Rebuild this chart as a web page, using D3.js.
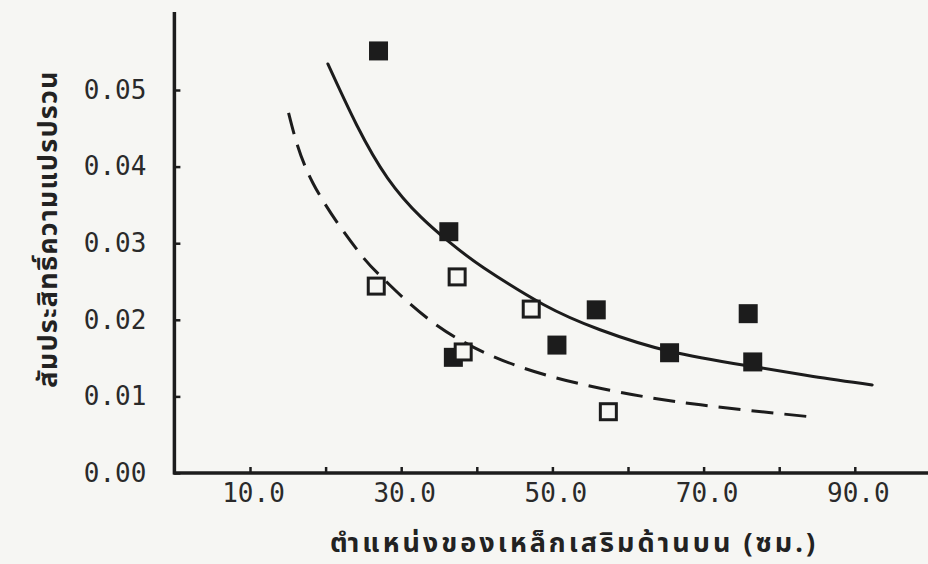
<!DOCTYPE html>
<html>
<head>
<meta charset="utf-8">
<script src="https://cdn.jsdelivr.net/npm/d3@7"></script>
<style>
  body { margin: 0; background: #f6f6f3; }
  svg { display: block; }
</style>
</head>
<body>
<div id="chart"></div>
<script>
// points
var filledX = [27.0, 36.3, 36.9, 50.6, 55.8, 65.5, 75.9, 76.5];
var filledY = [0.0551, 0.0315, 0.0151, 0.0167, 0.0213, 0.0157, 0.0208, 0.0145];
var openX = [26.7, 37.4, 38.2, 47.2, 57.4];
var openY = [0.0244, 0.0256, 0.0158, 0.0214, 0.0080];

// fitted curves (solid and dashed)
var solidX = [20.3, 28.2, 36.3, 40.9, 48.8, 56.3, 65.5, 76.5, 84.5, 92.3];
var solidY = [0.0534, 0.0385, 0.0302, 0.0268, 0.0220, 0.0187, 0.0159, 0.0139, 0.0126, 0.0115];
var dashX = [15.1, 18.3, 24.2, 27.6, 34.7, 45.3, 57.6, 69.6, 84.5];
var dashY = [0.0470, 0.0379, 0.0291, 0.0254, 0.0193, 0.0140, 0.0108, 0.0089, 0.0073];

// ticks
var xTicks = [10, 20, 30, 40, 50, 60, 70, 80, 90];
var xLabels = [10, 30, 50, 70, 90];
var yTicks = [0, 0.01, 0.02, 0.03, 0.04, 0.05];

var xTitle = "ตำแหน่งของเหล็กเสริมด้านบน (ซม.)";
var yTitle = "สัมประสิทธิ์ความแปรปรวน";

var W = 928, H = 564;
var ink = "#1c1c1c";
var numFont = "'DejaVu Sans Mono', monospace";
var thaiFont = "'Noto Sans Thai', 'Noto Sans', 'DejaVu Sans', sans-serif";

var svg = d3.select("#chart").append("svg")
    .attr("width", W)
    .attr("height", H);

var x = d3.scaleLinear().domain([0, 100]).range([174.4, 930.4]);
var y = d3.scaleLinear().domain([0, 0.06]).range([473, 13.4]);

// x axis
var gx = svg.append("g")
    .attr("transform", "translate(0," + y(0) + ")")
    .call(d3.axisBottom(x)
        .tickValues(xTicks)
        .tickSize(-6)
        .tickPadding(11)
        .tickFormat(function (d) { return xLabels.indexOf(d) >= 0 ? d3.format(".1f")(d) : ""; }));
gx.select(".domain").remove();
gx.append("line")
    .attr("x1", x(0) - 1).attr("x2", W)
    .attr("stroke", ink).attr("stroke-width", 3.5);
gx.selectAll(".tick line").attr("stroke", ink).attr("stroke-width", 2.5);
gx.selectAll(".tick text")
    .attr("fill", "#2a2a2a")
    .attr("dx", 3)
    .style("font-family", numFont)
    .style("font-size", "26px");

// y axis
var gy = svg.append("g")
    .attr("transform", "translate(" + x(0) + ",0)")
    .call(d3.axisLeft(y)
        .tickValues(yTicks)
        .tickSize(-6)
        .tickPadding(28)
        .tickFormat(d3.format(".2f")));
gy.select(".domain").remove();
gy.append("line")
    .attr("y1", 12).attr("y2", y(0) + 1.5)
    .attr("stroke", ink).attr("stroke-width", 3.5);
gy.selectAll(".tick line").attr("stroke", ink).attr("stroke-width", 2.5);
gy.selectAll(".tick text")
    .attr("fill", "#2a2a2a")
    .style("font-family", numFont)
    .style("font-size", "26px");

// axis titles
svg.append("text")
    .attr("x", 574)
    .attr("y", 552)
    .attr("text-anchor", "middle")
    .attr("fill", "#222")
    .style("font-family", thaiFont)
    .style("font-size", "27px")
    .style("font-weight", "bold")
    .style("letter-spacing", "3px")
    .text(xTitle);

svg.append("text")
    .attr("transform", "translate(57,229) rotate(-90)")
    .attr("text-anchor", "middle")
    .attr("fill", "#222")
    .style("font-family", thaiFont)
    .style("font-size", "27px")
    .style("font-weight", "bold")
    .style("letter-spacing", "1.2px")
    .text(yTitle);

// curves
var line = d3.line()
    .x(function (d) { return x(d[0]); })
    .y(function (d) { return y(d[1]); })
    .curve(d3.curveNatural);

svg.append("path")
    .datum(d3.zip(solidX, solidY))
    .attr("d", line)
    .attr("fill", "none")
    .attr("stroke", ink)
    .attr("stroke-width", 3)
    .attr("stroke-linecap", "round");

svg.append("path")
    .datum(d3.zip(dashX, dashY))
    .attr("d", line)
    .attr("fill", "none")
    .attr("stroke", ink)
    .attr("stroke-width", 3)
    .attr("stroke-dasharray", "22,11");

// markers
var sz = 19;
svg.selectAll("rect.filled")
    .data(d3.zip(filledX, filledY))
    .enter()
    .append("rect")
    .attr("class", "filled")
    .attr("x", function (d) { return x(d[0]) - sz / 2; })
    .attr("y", function (d) { return y(d[1]) - sz / 2; })
    .attr("width", sz)
    .attr("height", sz)
    .attr("fill", ink);

svg.selectAll("rect.open")
    .data(d3.zip(openX, openY))
    .enter()
    .append("rect")
    .attr("class", "open")
    .attr("x", function (d) { return x(d[0]) - (sz - 3) / 2; })
    .attr("y", function (d) { return y(d[1]) - (sz - 3) / 2; })
    .attr("width", sz - 3)
    .attr("height", sz - 3)
    .attr("fill", "#f6f6f3")
    .attr("stroke", ink)
    .attr("stroke-width", 3);
</script>
</body>
</html>
